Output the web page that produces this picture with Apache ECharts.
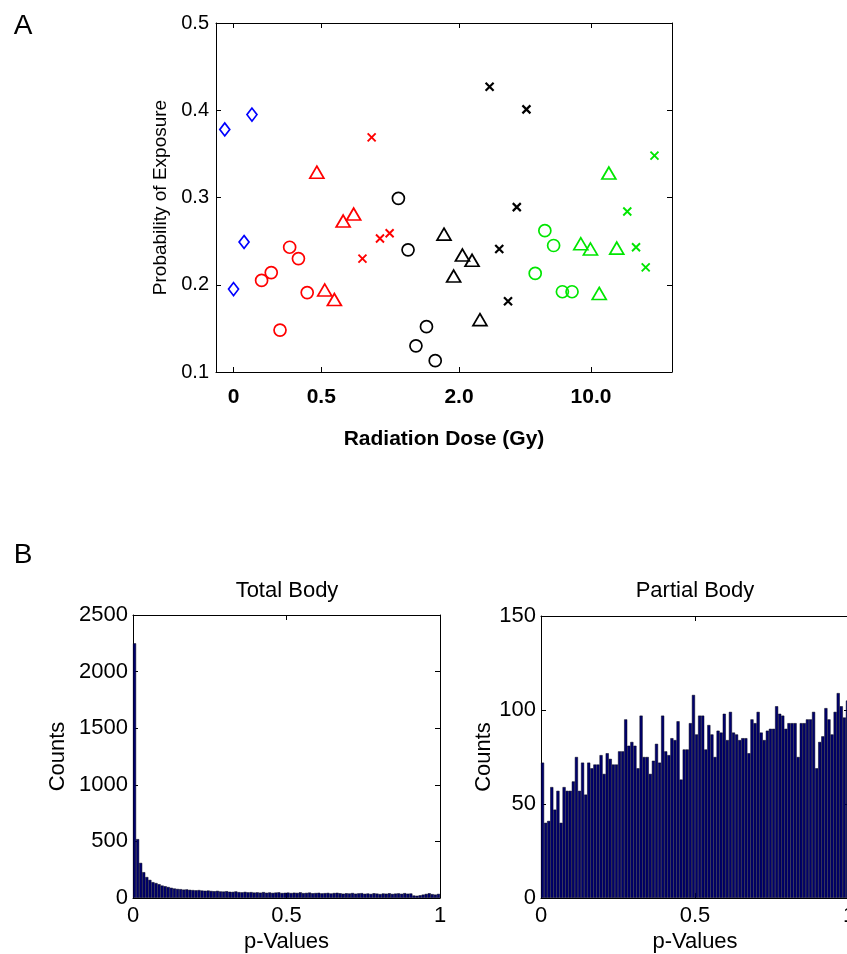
<!DOCTYPE html>
<html><head><meta charset="utf-8">
<script src="https://cdn.jsdelivr.net/npm/echarts@6/dist/echarts.min.js"></script>
<style>html,body{margin:0;padding:0;background:#fff}#c{width:847px;height:954px}</style>
</head><body><div id="c"></div>
<script>
// ---------- Panel A data ----------
const doseTickPos = [0, 1, 2.571, 4.076];
const doseTickLabels = ['0', '0.5', '2.0', '10.0'];

const blueDiamonds   = [[-0.10,0.378],[0.21,0.395],[0.12,0.249],[0.00,0.195]];
const redCircles     = [[0.32,0.205],[0.43,0.214],[0.53,0.148],[0.64,0.243],[0.74,0.230],[0.84,0.191]];
const redTriangles   = [[0.95,0.329],[1.25,0.273],[1.37,0.281],[1.04,0.194],[1.15,0.183]];
const redCrosses     = [[1.575,0.369],[1.47,0.230],[1.67,0.253],[1.78,0.259]];
const blackCircles   = [[1.88,0.299],[1.99,0.240],[2.20,0.152],[2.08,0.130],[2.30,0.113]];
const blackTriangles = [[2.40,0.258],[2.51,0.210],[2.61,0.234],[2.72,0.228],[2.81,0.160]];
const blackCrosses   = [[2.92,0.427],[3.34,0.401],[3.23,0.289],[3.03,0.241],[3.13,0.181]];
const greenCircles   = [[3.55,0.262],[3.65,0.245],[3.44,0.213],[3.75,0.192],[3.86,0.192]];
const greenTriangles = [[4.28,0.328],[3.96,0.247],[4.07,0.241],[4.37,0.242],[4.17,0.190]];
const greenCrosses   = [[4.80,0.348],[4.49,0.284],[4.59,0.243],[4.70,0.220]];

// ---------- Panel B data (100 bins on [0,1]) ----------
const totalBodyCounts = [2250,520,310,228,185,160,140,132,122,110,104,97,90,84,80,78,74,76,72,70,
  68,70,66,64,66,62,60,63,58,57,60,55,54,58,52,50,54,50,52,48,
  50,47,52,46,49,45,48,50,44,46,48,44,47,45,50,43,45,48,42,44,
  46,41,43,45,40,44,46,42,38,42,40,44,38,41,43,37,40,36,42,39,
  35,40,38,42,36,39,41,37,43,38,40,22,20,24,30,36,42,34,30,36];
const partialBodyCounts = [72,40,41,59,47,57,40,59,57,57,62,75,57,72,55,72,69,71,71,76,
  66,77,74,71,71,78,78,95,81,83,81,69,97,75,75,66,73,82,72,97,
  78,76,85,84,94,63,79,79,93,108,87,97,97,79,92,87,75,89,88,98,
  84,99,88,87,84,85,85,77,95,93,99,88,84,89,90,90,102,98,97,90,
  93,93,93,75,93,93,95,95,99,69,83,86,101,95,87,99,109,102,96,105];
const binLabels = totalBodyCounts.map((_, i) => ((i + 0.5) / 100).toFixed(3));

const FONT = 'Liberation Sans, Arial, sans-serif';
const BLUE = '#0000ff', RED = '#ff0000', BLACK = '#000000', GREEN = '#00e600';
const XMARK = 'path://M0,0L10,10M0,10L10,0';

function sc(data, symbol, color, size, lw) {
  return {
    type: 'scatter', data, xAxisIndex: 0, yAxisIndex: 0, symbol, symbolSize: size,
    itemStyle: { color: 'rgba(0,0,0,0)', borderColor: color, borderWidth: lw, opacity: 1 },
    emphasis: { disabled: true }, silent: true, z: 5
  };
}

const axLine = { show: true, onZero: false, lineStyle: { color: '#000', width: 1 } };
const tickIn = { show: true, inside: true, length: 5, lineStyle: { color: '#000', width: 1 } };
const lbl = (size, extra) => Object.assign({ color: '#000', fontSize: size, fontFamily: FONT }, extra || {});
const plain = v => String(v);
const barStyle = { color: '#00006e', borderColor: '#000014', borderWidth: 0.5 };

const option = {
  animation: false,
  backgroundColor: '#fff',
  grid: [
    { left: 216, top: 23, width: 456, height: 349, outerBoundsMode: 'none', containLabel: false },
    { left: 133, top: 615, width: 307, height: 283, outerBoundsMode: 'none', containLabel: false },
    { left: 541, top: 616, width: 308, height: 282, outerBoundsMode: 'none', containLabel: false }
  ],
  xAxis: [
    { type: 'value', gridIndex: 0, min: -0.2, max: 5.0, position: 'bottom',
      axisLine: axLine,
      axisTick: Object.assign({}, tickIn, { customValues: doseTickPos }),
      axisLabel: lbl(21, { fontWeight: 'bold', margin: 15, customValues: doseTickPos,
        formatter: v => { const i = doseTickPos.findIndex(p => Math.abs(p - v) < 1e-6); return i >= 0 ? doseTickLabels[i] : ''; } }),
      splitLine: { show: false },
      name: 'Radiation Dose (Gy)', nameLocation: 'middle', nameGap: 57,
      nameTextStyle: lbl(21, { fontWeight: 'bold' }) },
    { type: 'value', gridIndex: 0, min: -0.2, max: 5.0, position: 'top',
      axisLine: axLine, axisTick: Object.assign({}, tickIn, { customValues: doseTickPos }),
      axisLabel: { show: false }, splitLine: { show: false } },
    // panel B left
    { type: 'category', gridIndex: 1, data: binLabels, show: false, boundaryGap: true },
    { type: 'value', gridIndex: 1, min: 0, max: 1, interval: 0.5, position: 'bottom',
      axisLine: axLine, axisTick: tickIn, axisLabel: lbl(22, { margin: 7, formatter: plain }), splitLine: { show: false },
      name: 'p-Values', nameLocation: 'middle', nameGap: 33, nameTextStyle: lbl(22) },
    { type: 'value', gridIndex: 1, min: 0, max: 1, interval: 0.5, position: 'top',
      axisLine: axLine, axisTick: tickIn, axisLabel: { show: false }, splitLine: { show: false } },
    // panel B right
    { type: 'category', gridIndex: 2, data: binLabels, show: false, boundaryGap: true },
    { type: 'value', gridIndex: 2, min: 0, max: 1, interval: 0.5, position: 'bottom',
      axisLine: axLine, axisTick: tickIn, axisLabel: lbl(22, { margin: 7, formatter: plain }), splitLine: { show: false },
      name: 'p-Values', nameLocation: 'middle', nameGap: 33, nameTextStyle: lbl(22) },
    { type: 'value', gridIndex: 2, min: 0, max: 1, interval: 0.5, position: 'top',
      axisLine: axLine, axisTick: tickIn, axisLabel: { show: false }, splitLine: { show: false } }
  ],
  yAxis: [
    { type: 'value', gridIndex: 0, min: 0.1, max: 0.5, interval: 0.1, position: 'left',
      axisLine: axLine, axisTick: tickIn,
      axisLabel: lbl(20, { margin: 7, formatter: v => v.toFixed(1) }), splitLine: { show: false },
      name: 'Probability of Exposure', nameLocation: 'middle', nameGap: 42, nameTextStyle: lbl(19) },
    { type: 'value', gridIndex: 0, min: 0.1, max: 0.5, interval: 0.1, position: 'right',
      axisLine: axLine, axisTick: tickIn, axisLabel: { show: false }, splitLine: { show: false } },
    { type: 'value', gridIndex: 1, min: 0, max: 2500, interval: 500, position: 'left',
      axisLine: axLine, axisTick: tickIn, axisLabel: lbl(22, { margin: 5, formatter: plain }), splitLine: { show: false },
      name: 'Counts', nameLocation: 'middle', nameGap: 64, nameTextStyle: lbl(22) },
    { type: 'value', gridIndex: 1, min: 0, max: 2500, interval: 500, position: 'right',
      axisLine: axLine, axisTick: tickIn, axisLabel: { show: false }, splitLine: { show: false } },
    { type: 'value', gridIndex: 2, min: 0, max: 150, interval: 50, position: 'left',
      axisLine: axLine, axisTick: tickIn, axisLabel: lbl(22, { margin: 5, formatter: plain }), splitLine: { show: false },
      name: 'Counts', nameLocation: 'middle', nameGap: 42, nameTextStyle: lbl(22) },
    { type: 'value', gridIndex: 2, min: 0, max: 150, interval: 50, position: 'right',
      axisLine: axLine, axisTick: tickIn, axisLabel: { show: false }, splitLine: { show: false } }
  ],
  series: [
    sc(blueDiamonds, 'diamond', BLUE, [10, 13], 1.7),
    sc(redCircles, 'circle', RED, 12, 1.7),
    sc(redTriangles, 'triangle', RED, [14, 12], 1.7),
    sc(redCrosses, XMARK, RED, 8, 1.9),
    sc(blackCircles, 'circle', BLACK, 12, 1.7),
    sc(blackTriangles, 'triangle', BLACK, [14, 12], 1.7),
    sc(blackCrosses, XMARK, BLACK, 8, 2.2),
    sc(greenCircles, 'circle', GREEN, 12, 1.7),
    sc(greenTriangles, 'triangle', GREEN, [14, 12], 1.7),
    sc(greenCrosses, XMARK, GREEN, 8, 1.9),
    { type: 'bar', data: totalBodyCounts, xAxisIndex: 2, yAxisIndex: 2, barCategoryGap: 0, barGap: 0,
      itemStyle: barStyle, silent: true },
    { type: 'bar', data: partialBodyCounts, xAxisIndex: 5, yAxisIndex: 4, barCategoryGap: 0, barGap: 0,
      itemStyle: barStyle, silent: true }
  ],
  graphic: [
    { type: 'text', x: 23, y: 26, style: { text: 'A', font: '28px ' + FONT, fill: '#000', textAlign: 'center', textVerticalAlign: 'middle' } },
    { type: 'text', x: 23, y: 555, style: { text: 'B', font: '28px ' + FONT, fill: '#000', textAlign: 'center', textVerticalAlign: 'middle' } },
    { type: 'text', x: 287, y: 591, style: { text: 'Total Body', font: '22px ' + FONT, fill: '#000', textAlign: 'center', textVerticalAlign: 'middle' } },
    { type: 'text', x: 695, y: 591, style: { text: 'Partial Body', font: '22px ' + FONT, fill: '#000', textAlign: 'center', textVerticalAlign: 'middle' } }
  ]
};

const chart = echarts.init(document.getElementById('c'), null, { renderer: 'canvas' });
chart.setOption(option);
</script></body></html>
